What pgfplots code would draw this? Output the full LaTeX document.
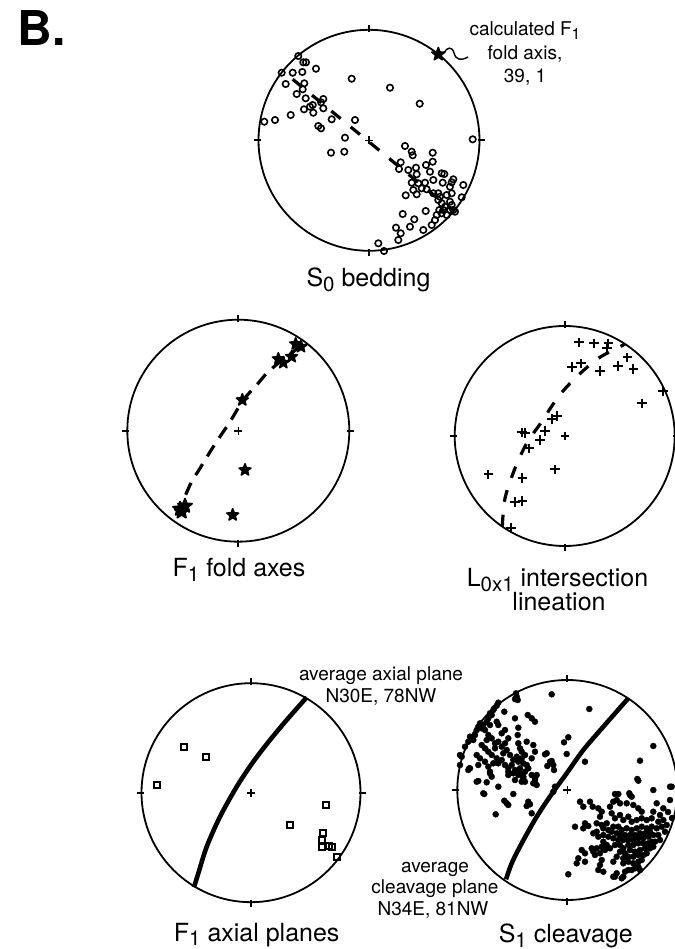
\documentclass[border=0pt]{standalone}
\usepackage{fontspec}
\setmainfont{TeX Gyre Heros}
\usepackage{graphicx}
\usepackage{pgfplots}
\pgfplotsset{compat=1.18}
\usetikzlibrary{plotmarks}

\pgfdeclareplotmark{fstar}{%
 \pgfpathmoveto{\pgfpointpolar{90}{\pgfplotmarksize}}%
 \pgfpathlineto{\pgfpointpolar{126}{0.42\pgfplotmarksize}}%
 \pgfpathlineto{\pgfpointpolar{162}{\pgfplotmarksize}}%
 \pgfpathlineto{\pgfpointpolar{198}{0.42\pgfplotmarksize}}%
 \pgfpathlineto{\pgfpointpolar{234}{\pgfplotmarksize}}%
 \pgfpathlineto{\pgfpointpolar{270}{0.42\pgfplotmarksize}}%
 \pgfpathlineto{\pgfpointpolar{306}{\pgfplotmarksize}}%
 \pgfpathlineto{\pgfpointpolar{342}{0.42\pgfplotmarksize}}%
 \pgfpathlineto{\pgfpointpolar{18}{\pgfplotmarksize}}%
 \pgfpathlineto{\pgfpointpolar{54}{0.42\pgfplotmarksize}}%
 \pgfpathclose
 \pgfusepathqfillstroke}

\newcommand{\lsub}[1]{\raisebox{-0.18em}{\scalebox{0.82}{#1}}}
\newcommand{\ann}{\fontsize{9.5}{11}\selectfont}
\newcommand{\lab}{\fontsize{12.5}{15}\selectfont}
\newcommand{\stereo}[3]{%
  \draw[line width=0.9pt] (#1,#2) circle[radius=#3*0.5pt];
  \draw[line width=0.9pt] (#1,#2-#3-5) -- (#1,#2-#3+2);
  \draw[line width=0.9pt] (#1,#2+#3-2) -- (#1,#2+#3+5);
  \draw[line width=0.9pt] (#1-#3-5,#2) -- (#1-#3+2,#2);
  \draw[line width=0.9pt] (#1+#3-2,#2) -- (#1+#3+5,#2);
}

\begin{document}
\begin{tikzpicture}
\begin{axis}[at={(0,0)},anchor=south west,width=337.5pt,height=474.5pt,scale only axis,
  xmin=0,xmax=675,ymin=0,ymax=949,y dir=reverse,hide axis,clip=false]

% centre crosses
\addplot[only marks, mark=+, mark size=2pt, mark options={line width=0.8pt}] coordinates {
(369,140.3) (238.3,430.7) (564.7,436) (251,792.7) (567.3,790)};

% ---------- S0 bedding ----------
\addplot[dash pattern=on 6pt off 6.5pt, line width=1.6pt] coordinates {(292.7,79.3) (452,210)};
\addplot[only marks, mark=o, mark size=1.6pt, mark options={line width=0.8pt}] coordinates {
(298.3,56) (303.3,62.3) (306,62.3) (281.7,72.7) (292.7,72.7) (302.3,72) (316,68.7) (285.7,84)
(304.3,83.3) (302.7,89.3) (296.7,94) (305.7,98.3) (323.3,99) (321,102.3) (312.7,105) (310,106.7)
(304,109.3) (313.3,112.7) (323.3,108.3) (290.7,115) (264.3,121.7) (275,120) (331.7,119.3) (355,120)
(351.7,78.7) (390,87.7) (419.7,103.7) (318.3,126) (321,128.3) (345,137.7) (331,152.7) (344.3,151.7)
(472.7,139.3) (405,146) (411.7,151.7) (412.7,155.3) (432.7,152.7) (400.7,162.3) (399,169) (408.3,170)
(416,167.7) (426,165) (432.7,161.7) (416.7,174.3) (430,171.7) (441.7,173.3) (444.3,174) (453.3,179.3)
(451.7,182.3) (442.7,182.7) (433.3,180) (411.7,182.7) (418.3,183.3) (425,182.7) (413.3,190) (421.7,188.3)
(426.7,189.3) (450,186.7) (463.3,185) (405.7,195.3) (416.7,194.3) (433.3,193.3) (438.3,193.3) (440,196.7)
(446.7,195) (451.7,193.3) (461.7,197.3) (438.3,200) (441.7,203.3) (450,201.7) (445,206.7) (451.7,205)
(439.3,210) (443.3,210) (450,210) (453.3,210) (455,211.7) (425.7,211) (402.7,214) (436.7,215)
(441.7,213.3) (446.7,215) (435,220) (414.3,219.3) (410,226.7) (431.7,225) (423.3,230) (396,227.7)
(400.7,233.3) (398.3,240) (378.3,243.3) (384,251)};
\addplot[only marks, mark=fstar, mark size=3.4pt, mark options={fill=black, draw=black, line width=0.8pt, line join=round}] coordinates {(438.3,54.3)};

% ---------- F1 fold axes ----------
\addplot[smooth, dash pattern=on 6.5pt off 4.5pt, line width=1.6pt] coordinates {
(177.3,515) (190,485) (200,468.3) (213.3,446.7) (230,421.7) (243.3,400) (256.7,385)
(266.7,373.3) (280,361.7) (293.3,351.7) (303.3,342.7)};
\addplot[only marks, mark=fstar, mark size=3.1pt, mark options={fill=black, draw=black, line width=0.8pt, line join=round}] coordinates {
(295.7,344) (301,346.7) (291.7,356.7) (278.3,359) (283.3,362.7) (242.3,400) (245,470) (232.7,515)};
\addplot[only marks, mark=fstar, mark size=3.7pt, mark options={fill=black, draw=black, line width=0.9pt, line join=round}] coordinates {
(180,509) (185,506) (181.7,511.7)};

% ---------- L0x1 intersection lineation ----------
\addplot[smooth, dash pattern=on 6pt off 6.5pt, line width=1.6pt] coordinates {
(502.3,526.7) (505,498.3) (515,468.3) (526.7,443.3) (541.7,421.7) (558.3,396.7) (576.7,376.7)
(598.3,358.3) (620,346.7) (625,344)};
\addplot[only marks, mark=+, mark size=2.4pt, mark options={line width=1pt}] coordinates {
(579,342.3) (594,343.3) (608.3,343.3) (606.7,348.3) (571.7,366.7) (580.7,363.3) (600,371) (617.7,366)
(627.3,357.3) (633.3,369) (662.7,390.7) (641.7,403.3) (556.7,415.7) (551.7,419) (521.7,432.3)
(525,432.7) (545,431) (540,440) (529.3,448.3) (488.3,474.3) (522.3,477.7) (555,469.3) (515,502)
(522.3,501) (510.7,527.7)};

% ---------- F1 axial planes ----------
\addplot[smooth, line width=2.3pt] coordinates {
(306.7,697.3) (286.7,720) (270,740) (253.3,761.7) (236.7,786.7) (220,816.7) (206.7,846.7)
(198.3,873.3) (194,887.3)};
\addplot[only marks, mark=square, mark size=1.5pt, mark options={fill=white, line width=0.9pt}] coordinates {
(184.3,747.3) (206,757.3) (156.7,785) (326,804.7) (290,825) (323.3,833.3) (321.7,840) (321.7,847.3)
(329.3,845.7) (332.3,847.3) (337,857)};

% ---------- S1 cleavage ----------
\addplot[smooth, line width=2.3pt] coordinates {
(628.3,698.3) (603.3,726.7) (583.3,750) (566.7,773.3) (553.3,791.7) (536.7,816.7) (521.7,843.3)
(511.7,863.3) (506,879.3)};
\addplot[only marks, mark=*, mark size=1.5pt, mark options={fill=black, draw=black, line width=0.2pt}] coordinates {
(551.7,694.3) (516,693.3) (516.7,696.7) (515,699) (517.7,700) (498.3,702.7) (496.7,705.7) (494.3,708.3)
(504.3,711.7) (491.7,715) (488.3,718.3) (486.7,721.7) (483.3,725) (480,723.3) (478.3,726.7) (476.7,730)
(481.7,728.3) (485,730) (515,718.3) (527.7,715) (531.7,718.3) (535,721.7) (496.7,721.7) (498.3,725)
(490,725) (518.3,727.7) (505,730) (501.7,733.3) (475,735) (473.3,740) (488.3,735) (491.7,738.3)
(486.7,740) (495,743.3) (498.3,741.7) (517.7,735) (526.7,741.7) (518.3,743.3) (508.3,738.3) (505,743.3)
(468.3,741.7) (465,746.7) (481.7,745) (485,748.3) (488.3,751.7) (495,748.3) (501.7,746.7) (506.7,750)
(503.3,753.3) (510,755) (520,748.3) (521.7,751.7) (525,755) (521.7,758.3) (516.7,756.7) (513.3,760)
(518.3,761.7) (523.3,763.3) (533.3,745) (535,751.7) (531.7,758.3) (526.7,765) (545,754.3) (551.7,761)
(553.3,765) (461.7,756.7) (460,765) (476.7,755) (480,758.3) (485,761.7) (478.3,765) (491.7,755)
(496.7,758.3) (501.7,760) (498.3,763.3) (493.3,763.3) (488.3,766.7) (505,765) (508.3,768.3) (511.7,765)
(515,770) (520,768.3) (513.3,773.3) (520,773.3) (525,771.7) (528.3,768.3) (470,768.3) (468.3,770)
(490,773.3) (491.7,776.7) (508.3,775) (531.7,775) (536.7,775) (535,780) (536.7,785) (523.3,778.3)
(525,781.7) (478.3,781) (476.7,781.7) (486.7,782.3) (515,780) (498.3,786.7) (483.3,793.3) (484.3,794)
(513.3,794) (504.3,800.7) (506.7,803.3) (508.3,805) (528.3,801.7) (530,804.3) (526.7,806) (531.7,813.3)
(495.7,814.3) (553.3,791.7) (555,786.7) (589.3,709) (568.3,737.3) (564,742.3) (566.7,754) (550,761.7)
(547.3,766) (554,770) (585,761.7) (653.3,746) (640,760.7) (637.3,779) (653.3,790) (671.7,786.7)
(546.7,753.3) (460,755) (469.3,768.3) (493.3,710) (490,713.3) (470,736.7) (508.3,771.7) (518.3,775)
(523.3,776.7) (535,778.3) (533.3,783.3) (521.7,781.7) (490,771.7)
(638.3,780.7) (670,786.7) (580,801.7) (583.3,806.7) (590,801.7) (592.7,806.7) (615,794) (613.3,801.7)
(610,806.7) (616.7,800) (620,803.3) (629.3,793.3) (631.7,796.7) (626.7,803.3) (633.3,805) (638.3,808.3)
(641.7,811.7) (656.7,803.3) (663.3,808.3) (653.3,811.7) (660,815) (598.3,808.3) (601.7,811.7) (600,816.7)
(611.7,813.3) (615,818.3) (620,815) (623.3,820) (628.3,816.7) (631.7,821.7) (636.7,820) (641.7,818.3)
(646.7,820) (651.7,818.3) (658.3,821.7) (663.3,820) (666.7,825) (661.7,826.7) (656.7,828.3) (665,831.7)
(575,826.7) (585,823.3) (588.3,826) (583.3,828.3) (596.7,823.3) (601.7,825) (606.7,823.3) (603.3,828.3)
(608.3,830) (613.3,826.7) (611.7,831.7) (618.3,826.7) (621.7,830) (626.7,828.3) (631.7,830) (636.7,828.3)
(641.7,826.7) (646.7,828.3) (651.7,826.7) (650,831.7) (645,833.3) (640,833.3) (635,835) (630,835)
(625,835) (620,835) (616.7,833.3) (596.7,831.7) (593.3,833.3) (598.3,836.7) (603.3,835) (608.3,836.7)
(613.3,838.3) (618.3,840) (623.3,840) (628.3,840) (633.3,840) (638.3,838.3) (643.3,838.3) (648.3,836.7)
(653.3,835) (658.3,835) (660,840) (603.3,841.7) (606.7,845) (601.7,846.7) (610,848.3) (605,850)
(596.7,848.3) (593.3,851.7) (595,855) (615,845) (620,845) (623.3,848.3) (628.3,845) (633.3,845)
(638.3,843.3) (643.3,843.3) (648.3,843.3) (651.7,841.7) (655,841.7) (620,851.7) (625,853.3) (630,850)
(635,851.7) (640,850) (645,848.3) (650,848.3) (653.3,846.7) (616.7,856.7) (623.3,858.3) (628.3,856.7)
(633.3,856.7) (638.3,855) (643.3,855) (646.7,853.3) (581.7,850) (585,853.3) (578.3,858.3) (585,861.7)
(576.7,863.3) (601.7,860) (600,865) (613.3,861.7) (623.3,863.3) (628.3,861.7) (633.3,863.3) (638.3,861.7)
(641.7,860) (635,868.3) (638.3,866.7) (631.7,870) (640,870) (598.3,870) (603.3,871.7) (616.7,873.3)
(623.3,876.7) (613.3,876.7) (628.3,870) (625,871.7) (568.3,874.3) (591.7,848.3) (615,876.7) (621.7,878.3)
(600,853.3) (603.3,848.3) (618.3,794) (630,795) (670,800) (668,812) (672,818)};
\end{axis}

\begin{scope}[x=0.5pt,y=-0.5pt,yshift=474.5pt]
\stereo{369}{140.3}{110.5}
\stereo{238.3}{430.7}{111}
\stereo{564.7}{436}{110}
\stereo{251}{792.7}{109.5}
\stereo{567.3}{790}{110}
\draw[line width=0.7pt] (444,53) .. controls (447,47) and (452,46) .. (454,53) .. controls (456,60) and (461,61) .. (468,57);

\node[anchor=base west, inner sep=0, font=\fontsize{24}{28}\selectfont\bfseries] at (17,46) {B.};
\node[anchor=base, inner sep=0, font=\ann] at (525,36) {calculated F\lsub{1}};
\node[anchor=base, inner sep=0, font=\ann] at (525,59.5) {fold axis,};
\node[anchor=base, inner sep=0, font=\ann] at (525,82.5) {39, 1};
\node[anchor=base, inner sep=0, font=\lab] at (368.5,287) {S\lsub{0} bedding};
\node[anchor=base, inner sep=0, font=\lab] at (239,577) {F\lsub{1} fold axes};
\node[anchor=base, inner sep=0, font=\lab] at (557.5,587) {L\lsub{0x1} intersection};
\node[anchor=base, inner sep=0, font=\lab] at (559,611) {lineation};
\node[anchor=base, inner sep=0, font=\lab] at (256.7,941) {F\lsub{1} axial planes};
\node[anchor=base, inner sep=0, font=\lab] at (565.8,943) {S\lsub{1} cleavage};
\node[anchor=base, inner sep=0, font=\ann] at (381,681) {average axial plane};
\node[anchor=base, inner sep=0, font=\ann] at (381,702.5) {N30E, 78NW};
\node[anchor=base, inner sep=0, font=\ann] at (435,872.3) {average};
\node[anchor=base, inner sep=0, font=\ann] at (435,894) {cleavage plane};
\node[anchor=base, inner sep=0, font=\ann] at (433,916) {N34E, 81NW};
\end{scope}
\pgfresetboundingbox
\path[use as bounding box] (0,0) rectangle (337.5pt,474.5pt);
\end{tikzpicture}
\end{document}
